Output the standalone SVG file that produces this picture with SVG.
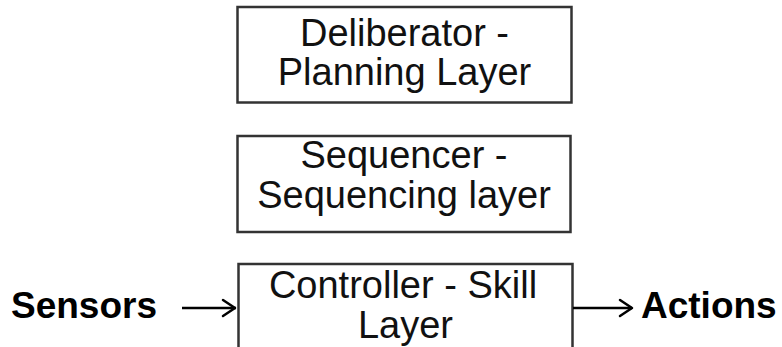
<svg xmlns="http://www.w3.org/2000/svg" width="782" height="347" viewBox="0 0 782 347">
<style>
.box{fill:#fff;stroke:#333;stroke-width:2.5}
.t{font-family:"Liberation Sans",Arial,sans-serif;font-size:38px;fill:#111;text-anchor:middle}
.b{font-family:"Liberation Sans",Arial,sans-serif;font-size:37px;font-weight:bold;fill:#000}
.c{stroke:#000;stroke-width:2.5;fill:none}
.h{stroke:#000;stroke-width:2.5;fill:none;stroke-linecap:round;stroke-linejoin:round}
</style>
<rect width="782" height="347" fill="#fff"/>
<g id="deliberator">
<rect class="box" x="237.5" y="7" width="334" height="95.5"/>
<text class="t" x="404.5" y="46">Deliberator -</text>
<text class="t" x="404.5" y="85">Planning Layer</text>
</g>
<g id="sequencer">
<rect class="box" x="237.5" y="136" width="333" height="96"/>
<text class="t" x="404" y="168">Sequencer -</text>
<text class="t" x="404" y="208">Sequencing layer</text>
</g>
<g id="controller">
<rect class="box" x="238.5" y="264" width="334" height="100"/>
<text class="t" x="403" y="298">Controller - Skill</text>
<text class="t" x="405.5" y="338">Layer</text>
</g>
<g id="sensors">
<text class="b" x="11" y="318">Sensors</text>
</g>
<g id="actions">
<text class="b" x="641" y="318">Actions</text>
</g>
<g id="connectors">
<line class="c" x1="182" y1="308" x2="236" y2="308"/>
<polyline class="h" points="223,300 235,308 223,316"/>
<line class="c" x1="573" y1="308" x2="632" y2="308"/>
<polyline class="h" points="620,300 632,308 620,316"/>
</g>
</svg>
